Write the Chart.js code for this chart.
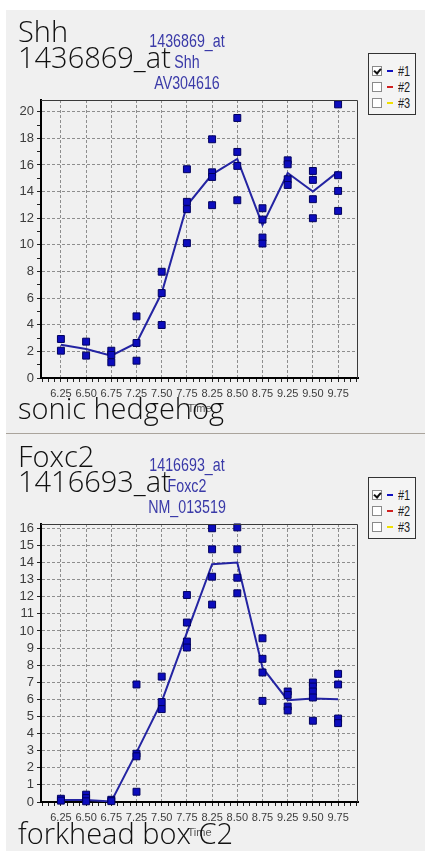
<!DOCTYPE html>
<html>
<head>
<meta charset="utf-8">
<script src="https://cdn.jsdelivr.net/npm/chart.js@4.4.0/dist/chart.umd.min.js"></script>
<style>
  html, body { margin: 0; padding: 0; background: #fff; width: 425px; height: 851px; overflow: hidden; }
  .panel { position: absolute; left: 6px; width: 419px; background: #f0f0f0; overflow: hidden; }
  #p1 { top: 10px; height: 423px; }
  #p2 { top: 434px; height: 417px; }
  .sep { position: absolute; left: 6px; top: 433px; width: 419px; height: 1px; background: #aaa49c; }
  .panel canvas { position: absolute; left: 0; top: 0; }
  .big { position: absolute; left: 12px; font-family: 'Open Sans', sans-serif; font-weight: 300;
         font-size: 29px; line-height: 29px; color: #111; white-space: nowrap; z-index: 2; }
  .probe { position: absolute; left: 121px; width: 120px; text-align: center;
           font-family: 'Liberation Sans', Arial, sans-serif;
           font-size: 19px; line-height: 21px; color: #3a3aa8; z-index: 2;
           transform: scaleX(0.75); transform-origin: 60px 0; }
  .legend { position: absolute; left: 362px; top: 43px; width: 46px; height: 60px;
            border: 1px solid #333; background: #f4f4f4; z-index: 2; }
  .row { position: absolute; left: 0; width: 46px; height: 16px; }
  .cb { position: absolute; left: 3px; top: 3px; width: 8px; height: 8px; border: 1px solid #8a8a8a; background: #fff; }
  .cb.on::after { content: ''; position: absolute; left: 2px; top: 0px; width: 3px; height: 5px;
                  border: solid #111; border-width: 0 2px 2px 0; transform: rotate(40deg); }
  .dash { position: absolute; left: 18px; top: 7px; width: 6px; height: 2px; }
  .lt { position: absolute; left: 29px; top: 0; font-family: 'Liberation Sans', Arial, sans-serif;
        font-size: 14px; line-height: 16px; color: #222; transform: scaleX(0.78); transform-origin: 0 0; }
</style>
</head>
<body>
<div class="panel" id="p1">
  <canvas id="c1" width="419" height="423"></canvas>
  <div class="big" style="top:6px">Shh</div>
  <div class="big" style="top:32px">1436869_at</div>
  <div class="probe" style="top:20px">1436869_at<br>Shh<br>AV304616</div>
  <div class="big" style="top:383px">sonic hedgehog</div>
  <div class="legend">
    <div class="row" style="top:9px"><div class="cb on"></div><div class="dash" style="background:#1010c0"></div><div class="lt">#1</div></div>
    <div class="row" style="top:25px"><div class="cb"></div><div class="dash" style="background:#d02020"></div><div class="lt">#2</div></div>
    <div class="row" style="top:41px"><div class="cb"></div><div class="dash" style="background:#f0e000"></div><div class="lt">#3</div></div>
  </div>
</div>
<div class="sep"></div>
<div class="panel" id="p2">
  <canvas id="c2" width="419" height="417"></canvas>
  <div class="big" style="top:7px">Foxc2</div>
  <div class="big" style="top:32px">1416693_at</div>
  <div class="probe" style="top:20px">1416693_at<br>Foxc2<br>NM_013519</div>
  <div class="big" style="top:384px">forkhead box C2</div>
  <div class="legend">
    <div class="row" style="top:9px"><div class="cb on"></div><div class="dash" style="background:#1010c0"></div><div class="lt">#1</div></div>
    <div class="row" style="top:25px"><div class="cb"></div><div class="dash" style="background:#d02020"></div><div class="lt">#2</div></div>
    <div class="row" style="top:41px"><div class="cb"></div><div class="dash" style="background:#f0e000"></div><div class="lt">#3</div></div>
  </div>
</div>

<script>
// Embryonic stage (days) of each sample group
const TIME_LABELS = ['6.25', '6.50', '6.75', '7.25', '7.50', '7.75', '8.25', '8.50', '8.75', '9.25', '9.50', '9.75'];

// Shh (1436869_at): replicate signals per stage and the trend line
const SHH_REPLICATES = [
  [2.93, 2.05], [2.73, 1.68], [2.05, 1.73, 1.18], [4.63, 2.63, 1.30],
  [7.98, 6.38, 3.98], [15.68, 13.23, 12.68, 10.13], [17.93, 15.45, 15.10, 12.98],
  [19.53, 16.98, 15.93, 13.35], [12.75, 11.90, 10.55, 10.10], [16.35, 16.05, 14.93, 14.50],
  [15.55, 14.88, 13.43, 12.00], [20.55, 15.23, 14.05, 12.55]
];
const SHH_TREND = [2.49, 2.18, 1.68, 2.63, 6.38, 12.95, 15.30, 16.45, 11.50, 15.40, 14.00, 15.50];
const SHH_Y_LABELS = [0, 2, 4, 6, 8, 10, 12, 14, 16, 18, 20];

// Foxc2 (1416693_at): replicate signals per stage and the trend line
const FOXC2_REPLICATES = [
  [0.19, 0.08], [0.43, 0.23, 0.04], [0.13, 0.05], [6.87, 2.82, 2.67, 0.60],
  [7.33, 5.84, 5.43], [12.10, 10.49, 9.38, 9.03], [16.00, 14.77, 13.17, 11.54],
  [16.05, 14.77, 13.11, 12.20], [9.57, 8.37, 7.57, 5.91], [6.46, 6.26, 5.58, 5.35],
  [6.98, 6.75, 6.46, 6.11, 4.75], [7.49, 6.87, 4.88, 4.61]
];
const FOXC2_TREND = [0.12, 0.12, 0.03, 2.90, 5.87, 9.90, 13.90, 14.00, 7.85, 5.95, 6.05, 6.00];
const FOXC2_Y_LABELS = [0, 1, 2, 3, 4, 5, 6, 7, 8, 9, 10, 11, 12, 13, 14, 15, 16];

const TICK_FONT = { family: "'Liberation Sans', Arial, sans-serif", size: 13 };
const GRID_GRAY = '#8e8e8e';

// thin top/right frame around the plotting area
const framePlugin = {
  id: 'frame',
  afterDraw(chart) {
    const { ctx, chartArea: a } = chart;
    ctx.save();
    ctx.strokeStyle = '#3a3a3a';
    ctx.lineWidth = 1;
    ctx.beginPath();
    ctx.moveTo(a.left, a.top + 0.5);
    ctx.lineTo(a.right - 0.5, a.top + 0.5);
    ctx.lineTo(a.right - 0.5, a.bottom);
    ctx.stroke();
    ctx.restore();
  }
};

function makeChart(id, replicates, trend, yLabels, yMax, yMinorStep, bottomPad) {
  const points = replicates.flatMap((vals, i) => vals.map(v => ({ x: i, y: v })));
  const line = trend.map((v, i) => ({ x: i, y: v }));
  const labelStep = yLabels[1] - yLabels[0];
  const isInt = v => Math.abs(v - Math.round(v)) < 1e-9;

  return new Chart(document.getElementById(id), {
    type: 'scatter',
    data: {
      datasets: [
        { type: 'scatter', data: points, pointStyle: 'rect', pointRadius: 4.9, pointHoverRadius: 4.9,
          backgroundColor: '#0c0cbd', borderColor: '#00005e', borderWidth: 1, clip: false, order: 1 },
        { type: 'line', data: line, borderColor: '#2424a2', borderWidth: 2, pointRadius: 0,
          tension: 0, fill: false, clip: false, order: 2 }
      ]
    },
    options: {
      responsive: false,
      animation: false,
      devicePixelRatio: 1,
      layout: { padding: { top: 90, right: 67, bottom: bottomPad, left: 0 } },
      plugins: { legend: { display: false }, tooltip: { enabled: false } },
      scales: {
        x: {
          type: 'linear', min: -0.79, max: TIME_LABELS.length - 1 + 0.79,
          afterBuildTicks: s => {
            const t = [];
            for (let q = -3; q <= (TIME_LABELS.length - 1) * 4 + 3; q++) t.push({ value: q / 4 });
            s.ticks = t;
          },
          afterFit: s => { s.height = 38; },
          ticks: {
            autoSkip: false, maxRotation: 0, minRotation: 0, padding: 5,
            color: '#3c3c3c', font: { ...TICK_FONT, size: 11 },
            callback: v => (isInt(v) && v >= 0 && v < TIME_LABELS.length) ? TIME_LABELS[Math.round(v)] : ''
          },
          grid: {
            color: c => (c.tick && isInt(c.tick.value) && c.tick.value >= 0) ? GRID_GRAY : 'rgba(0,0,0,0)',
            lineWidth: 1, drawTicks: true, tickLength: 4, tickColor: '#222', tickWidth: 1, tickBorderDash: []
          },
          border: { display: true, color: '#000', width: 2, dash: [3, 2] },
          title: { display: true, text: 'Time', color: '#555', padding: { top: 0, bottom: 0 },
                   font: { ...TICK_FONT, size: 11 } }
        },
        y: {
          type: 'linear', min: 0, max: yMax,
          afterBuildTicks: s => {
            const t = [];
            for (let v = 0; v <= yMax + 1e-9; v += yMinorStep) t.push({ value: Math.round(v * 100) / 100 });
            s.ticks = t;
          },
          afterFit: s => { s.width = 35; },
          ticks: {
            autoSkip: false, padding: 3, color: '#3c3c3c', font: TICK_FONT,
            callback: v => yLabels.includes(v) ? String(v) : ''
          },
          grid: {
            color: c => (c.tick && isInt(c.tick.value / labelStep) && c.tick.value > 0) ? GRID_GRAY : 'rgba(0,0,0,0)',
            lineWidth: 1, drawTicks: true, tickLength: 4, tickColor: '#222', tickWidth: 1, tickBorderDash: []
          },
          border: { display: true, color: '#000', width: 2, dash: [3, 2] }
        }
      }
    },
    plugins: [framePlugin]
  });
}

makeChart('c1', SHH_REPLICATES, SHH_TREND, SHH_Y_LABELS, 20.88, 1, 17);
makeChart('c2', FOXC2_REPLICATES, FOXC2_TREND, FOXC2_Y_LABELS, 16.25, 1, 11);
</script>
</body>
</html>
